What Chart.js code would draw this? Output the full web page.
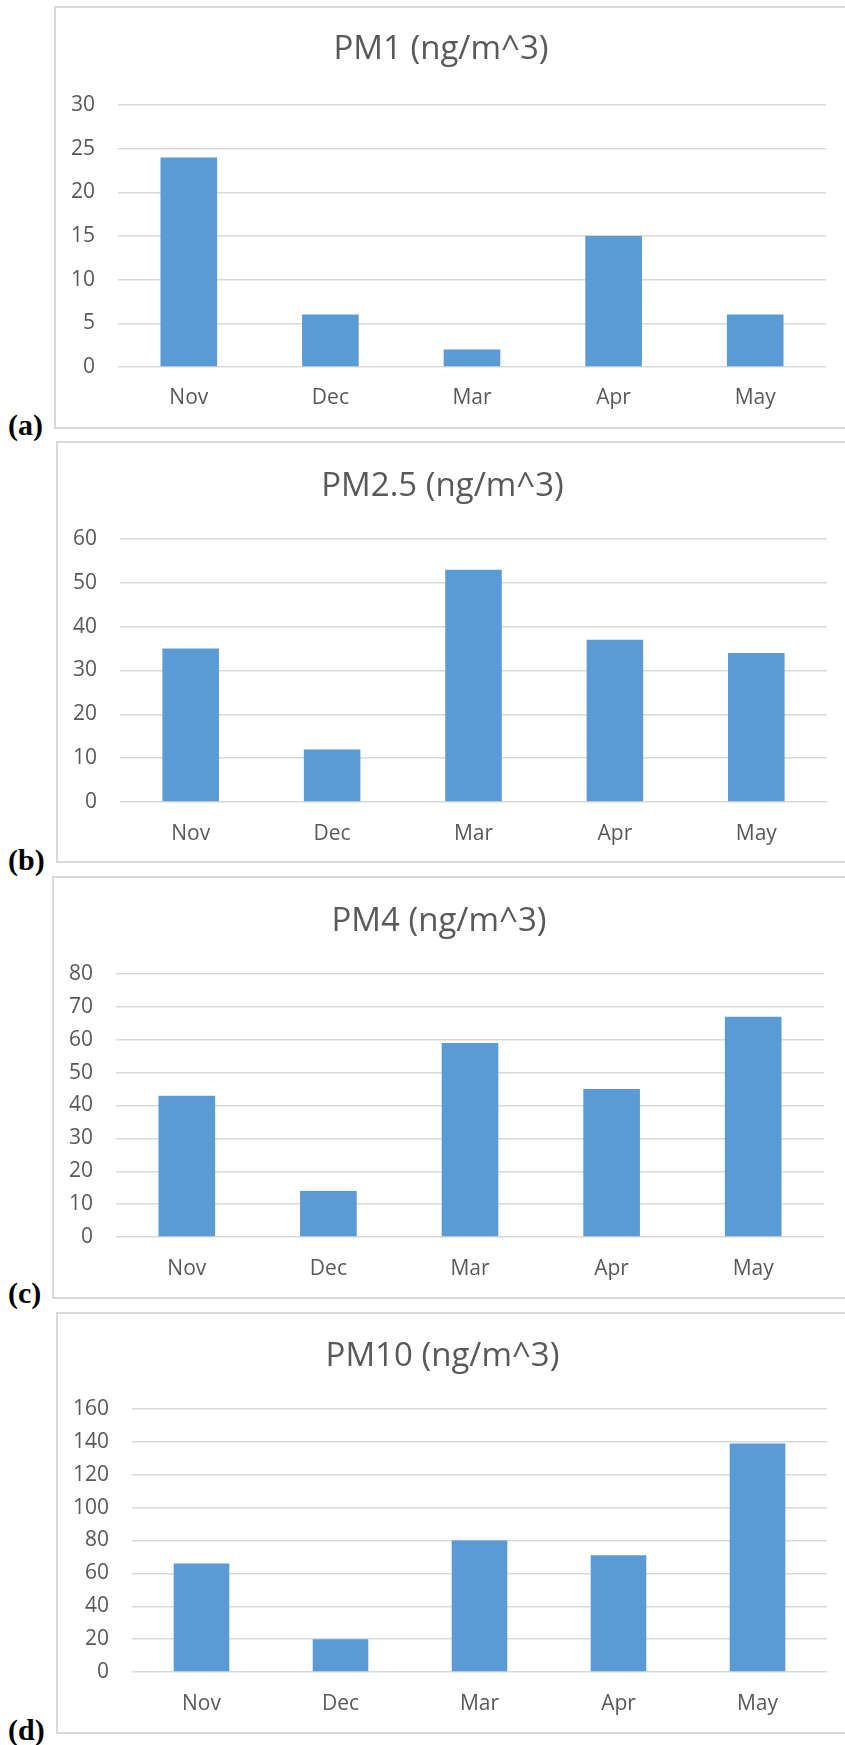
<!DOCTYPE html>
<html>
<head>
<meta charset="utf-8">
<title>PM monthly means</title>
<script src="https://cdn.jsdelivr.net/npm/chart.js@4"></script>
<style>
  body { margin: 0; background: #fff; width: 845px; height: 1745px; overflow: hidden; position: relative; }
  .panel { position: absolute; border: 2px solid #d9d9d9; box-sizing: border-box; background: #fff; }
  .panel canvas { display: block; }
  .tag { position: absolute; left: 8px; font: bold 30px "Liberation Serif", "Times New Roman", serif; color: #000; line-height: 30px; }
</style>
</head>
<body>
<div id="charts"></div>
<script>
// monthly values per size fraction
const months = ["Nov", "Dec", "Mar", "Apr", "May"];
const pm1 = [24, 6, 2, 15, 6];
const pm25 = [35, 12, 53, 37, 34];
const pm4 = [43, 14, 59, 45, 67];
const pm10 = [66, 20, 80, 71, 139];

const titles = ["PM1 (ng/m^3)", "PM2.5 (ng/m^3)", "PM4 (ng/m^3)", "PM10 (ng/m^3)"];
const tags = ["(a)", "(b)", "(c)", "(d)"];
const yMax = [30, 60, 80, 160];
const yStep = [5, 10, 10, 20];
const series = [pm1, pm25, pm4, pm10];

// page geometry of each panel (box + plot area, in page pixels)
const panels = [
  { x: 54, top: 6, bottom: 429, left: 118, right: 826, areaTop: 105, areaBottom: 367, titleY: 50, labelY: 398, tickRight: 95, tagY: 425 },
  { x: 56, top: 441, bottom: 863, left: 120, right: 827, areaTop: 539, areaBottom: 802, titleY: 487, labelY: 834, tickRight: 97, tagY: 860 },
  { x: 52, top: 876, bottom: 1299, left: 116, right: 824, areaTop: 974, areaBottom: 1237, titleY: 922, labelY: 1269, tickRight: 93, tagY: 1293 },
  { x: 56, top: 1312, bottom: 1734, left: 132, right: 827, areaTop: 1409, areaBottom: 1672, titleY: 1357, labelY: 1704, tickRight: 109, tagY: 1730 },
];

const BORDER = 2;
const TITLE_SIZE = 33;
const TICK_SIZE = 21;
const FONT = '"Open Sans", "Noto Sans", sans-serif';
const host = document.getElementById("charts");

panels.forEach((p, i) => {
  const box = document.createElement("div");
  box.className = "panel";
  box.style.left = p.x + "px";
  box.style.top = p.top + "px";
  box.style.width = (900 - p.x) + "px";
  box.style.height = (p.bottom - p.top) + "px";
  host.appendChild(box);

  const ox = p.x + BORDER;
  const oy = p.top + BORDER;
  const W = 900 - p.x - 2 * BORDER;
  const H = p.bottom - p.top - 2 * BORDER;

  const canvas = document.createElement("canvas");
  canvas.width = W;
  canvas.height = H;
  canvas.style.width = W + "px";
  canvas.style.height = H + "px";
  box.appendChild(canvas);

  const tag = document.createElement("div");
  tag.className = "tag";
  tag.style.top = (p.tagY - 15) + "px";
  tag.textContent = tags[i];
  document.body.appendChild(tag);

  const titleTop = p.titleY - oy - TITLE_SIZE * 0.6;
  const titleBottom = (p.areaTop - oy) - titleTop - TITLE_SIZE * 1.2;
  const yWidth = p.left - ox;
  const xHeight = H - (p.areaBottom - oy);

  new Chart(canvas, {
    type: "bar",
    data: {
      labels: months,
      datasets: [{
        data: series[i],
        backgroundColor: "#5b9bd5",
        borderWidth: 0,
        categoryPercentage: 1,
        barPercentage: 0.4,
      }],
    },
    options: {
      responsive: false,
      animation: false,
      layout: { padding: { left: 0, top: 0, bottom: 0, right: W - (p.right - ox) } },
      plugins: {
        legend: { display: false },
        tooltip: { enabled: false },
        title: {
          display: true,
          text: titles[i],
          color: "#595959",
          font: { family: FONT, size: TITLE_SIZE, weight: "normal" },
          padding: { top: titleTop, bottom: titleBottom },
        },
      },
      scales: {
        x: {
          grid: { display: false, drawTicks: false },
          border: { display: false },
          ticks: { color: "#595959", font: { family: FONT, size: TICK_SIZE }, padding: p.labelY - p.areaBottom - TICK_SIZE * 0.6 },
          afterFit: (scale) => { scale.height = xHeight; },
        },
        y: {
          min: 0,
          max: yMax[i],
          grid: { color: "#d9d9d9", lineWidth: 1.5, drawTicks: false },
          border: { display: false },
          ticks: { stepSize: yStep[i], color: "#595959", font: { family: FONT, size: TICK_SIZE }, padding: p.left - p.tickRight },
          afterFit: (scale) => { scale.width = yWidth; },
        },
      },
    },
  });
});
</script>
</body>
</html>
